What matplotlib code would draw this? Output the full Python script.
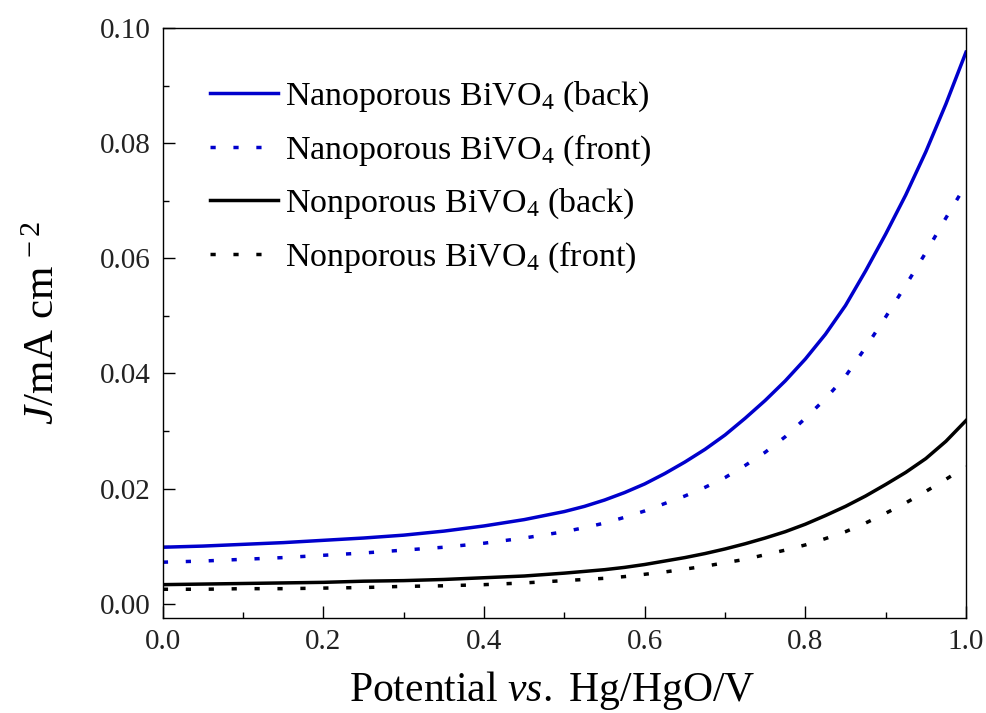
import matplotlib
matplotlib.use("Agg")
import matplotlib.pyplot as plt
import numpy as np

plt.rcParams['font.family'] = ['Liberation Serif', 'DejaVu Serif']
plt.rcParams['mathtext.fontset'] = 'custom'
plt.rcParams['mathtext.rm'] = 'Liberation Serif'
plt.rcParams['mathtext.it'] = 'Liberation Serif:italic'

potential = [0.0, 0.05, 0.1, 0.15, 0.2, 0.25, 0.3, 0.35, 0.4, 0.45,
             0.5, 0.525, 0.55, 0.575, 0.6, 0.625, 0.65, 0.675, 0.7, 0.725,
             0.75, 0.775, 0.8, 0.825, 0.85, 0.875, 0.9, 0.925, 0.95, 0.975, 1.0]
nano_back = [0.0098, 0.0100, 0.0103, 0.0106, 0.0110, 0.0114, 0.0119, 0.0126, 0.0135, 0.0146,
             0.0160, 0.0169, 0.0180, 0.0193, 0.0208, 0.0226, 0.0246, 0.0268, 0.0293, 0.0322,
             0.0353, 0.0387, 0.0425, 0.0468, 0.0518, 0.0578, 0.0642, 0.0710, 0.0785, 0.0868, 0.0958]
nano_front = [0.0072, 0.0074, 0.0077, 0.0080, 0.0084, 0.0088, 0.0093, 0.0098, 0.0105, 0.0114,
              0.0125, 0.0132, 0.0140, 0.0150, 0.0161, 0.0174, 0.0187, 0.0202, 0.0219, 0.0240,
              0.0263, 0.0290, 0.0322, 0.0356, 0.0395, 0.0445, 0.0498, 0.0553, 0.0610, 0.0670, 0.0728]
non_back = [0.0033, 0.0034, 0.0035, 0.0036, 0.0037, 0.0039, 0.0040, 0.0042, 0.0045, 0.0048,
            0.0053, 0.0056, 0.0059, 0.0063, 0.0068, 0.0074, 0.0080, 0.0087, 0.0095, 0.0104,
            0.0114, 0.0125, 0.0138, 0.0153, 0.0169, 0.0187, 0.0207, 0.0228, 0.0252, 0.0282, 0.0318]
non_front = [0.0025, 0.0025, 0.0026, 0.0026, 0.0027, 0.0028, 0.0030, 0.0031, 0.0033, 0.0036,
             0.0040, 0.0042, 0.0044, 0.0047, 0.0051, 0.0055, 0.0060, 0.0065, 0.0071, 0.0077,
             0.0085, 0.0093, 0.0102, 0.0113, 0.0125, 0.0140, 0.0157, 0.0175, 0.0195, 0.0216, 0.0238]

labels = ['Nanoporous BiVO$_4$ (back)', 'Nanoporous BiVO$_4$ (front)',
          'Nonporous BiVO$_4$ (back)', 'Nonporous BiVO$_4$ (front)']

blue = '#0000cc'
fig = plt.figure(figsize=(9.87, 7.13), dpi=100)
ax = fig.add_axes([0.165, 0.1332, 0.8137, 0.8275])

dot = (0, (1.5, 5.1))
lw = 2.5
ax.plot(potential, nano_back, color=blue, lw=lw, label=labels[0])
ax.plot(potential, nano_front, color=blue, lw=lw, linestyle=dot, label=labels[1])
ax.plot(potential, non_back, color='black', lw=lw, label=labels[2])
ax.plot(potential, non_front, color='black', lw=lw, linestyle=dot, label=labels[3])

ax.set_xlim(0, 1.0)
ax.set_ylim(-0.0025, 0.10)
ax.set_xticks(np.arange(0, 1.01, 0.2))
ax.set_xticks(np.arange(0.1, 1.0, 0.2), minor=True)
ax.set_yticks(np.arange(0, 0.101, 0.02))
ax.set_yticks(np.arange(0.01, 0.1, 0.02), minor=True)
ax.xaxis.set_major_formatter(matplotlib.ticker.FormatStrFormatter('%.1f'))
ax.yaxis.set_major_formatter(matplotlib.ticker.FormatStrFormatter('%.2f'))
ax.tick_params(which='both', direction='in', top=False, right=False, labelsize=21,
               labelcolor='#222222')
ax.tick_params(which='major', length=8.6, width=1)
ax.tick_params(which='minor', length=4, width=1)
ax.tick_params(axis='x', pad=8)
ax.tick_params(axis='y', pad=9)
for s in ax.spines.values():
    s.set_linewidth(1)

ax.set_xlabel('Potential $\\it{vs.}$ Hg/HgO/V', fontsize=30, labelpad=10)
ax.xaxis.label.set_x(0.485)
ax.set_ylabel('$J$/mA cm$^{\\,-2}$', fontsize=31, labelpad=26)

leg = ax.legend(loc='upper left', bbox_to_anchor=(0.059, 0.913), frameon=False,
                fontsize=24.5, handlelength=2.0, handletextpad=0.2, labelspacing=0.55,
                borderaxespad=0, borderpad=0)

fig.savefig('out.png', dpi=100)
